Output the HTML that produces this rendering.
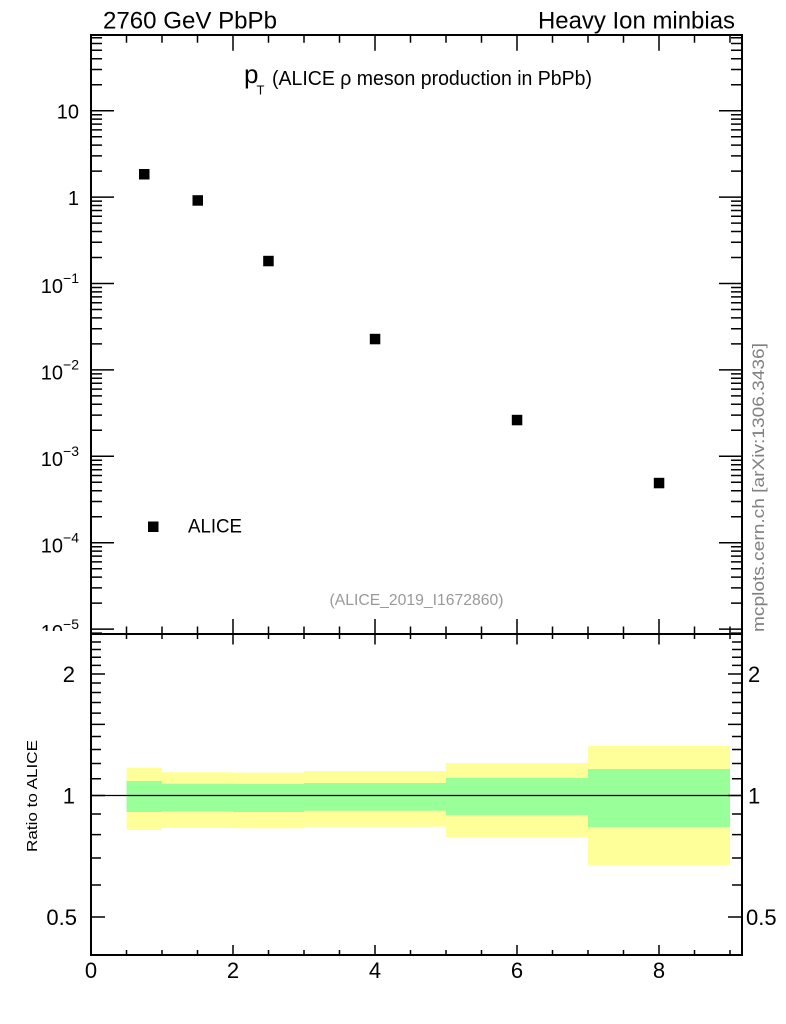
<!DOCTYPE html>
<html><head><meta charset="utf-8"><style>
html,body{margin:0;padding:0;background:#fff;}
svg{display:block;}
text{font-family:"Liberation Sans",Arial,sans-serif;}
</style></head><body>
<svg width="786" height="1024" viewBox="0 0 786 1024" xmlns="http://www.w3.org/2000/svg">
<defs>
<clipPath id="cliptop"><rect x="0" y="0" width="786" height="631"/></clipPath>
</defs>
<rect width="786" height="1024" fill="#fff"/>

<!-- header -->
<text x="103" y="28.5" font-size="24" textLength="174" lengthAdjust="spacingAndGlyphs">2760 GeV PbPb</text>
<text x="538" y="28.5" font-size="24" textLength="197" lengthAdjust="spacingAndGlyphs">Heavy Ion minbias</text>

<!-- title -->
<text x="244" y="83" font-size="26">p</text>
<text x="256.5" y="94.5" font-size="13">T</text>
<text x="272" y="85" font-size="20" textLength="320" lengthAdjust="spacingAndGlyphs">(ALICE ρ meson production in PbPb)</text>

<!-- data points -->
<g fill="#000">
<rect x="139" y="169" width="10.5" height="10.5"/>
<rect x="192.5" y="195.2" width="10.5" height="10.5"/>
<rect x="263.2" y="255.8" width="10.5" height="10.5"/>
<rect x="369.8" y="333.8" width="10.5" height="10.5"/>
<rect x="511.8" y="414.8" width="10.5" height="10.5"/>
<rect x="653.8" y="477.8" width="10.5" height="10.5"/>
</g>

<!-- legend -->
<rect x="148" y="521.5" width="10.5" height="10.5" fill="#000"/>
<text x="188" y="532.3" font-size="19.5" textLength="54" lengthAdjust="spacingAndGlyphs">ALICE</text>

<text x="416.5" y="605" font-size="15.5" fill="#999" text-anchor="middle" textLength="174" lengthAdjust="spacingAndGlyphs">(ALICE_2019_I1672860)</text>

<!-- main y labels -->
<g font-size="20" text-anchor="end">
<text x="79" y="118.5">10</text>
<text x="79" y="205">1</text>
<text x="79" y="293.2">10<tspan font-size="14" dy="-10">−1</tspan></text>
<text x="79" y="379.6">10<tspan font-size="14" dy="-10">−2</tspan></text>
<text x="79" y="466">10<tspan font-size="14" dy="-10">−3</tspan></text>
<text x="79" y="552.4">10<tspan font-size="14" dy="-10">−4</tspan></text>
<g clip-path="url(#cliptop)"><text x="79" y="638.8">10<tspan font-size="14" dy="-10">−5</tspan></text></g>
</g>

<!-- ratio bands -->
<g fill="#ffff99">
<rect x="126.5" y="767.7" width="35.5" height="62.3"/>
<rect x="162" y="772.3" width="71" height="55.7"/>
<rect x="233" y="772.6" width="71" height="55.7"/>
<rect x="304" y="771" width="142" height="55.7"/>
<rect x="446" y="763" width="142" height="74"/>
<rect x="588" y="746" width="142" height="119"/>
</g>
<g fill="#99ff99">
<rect x="126.5" y="781" width="35.5" height="31"/>
<rect x="162" y="783.7" width="71" height="27.6"/>
<rect x="233" y="784" width="71" height="28"/>
<rect x="304" y="783" width="142" height="27.7"/>
<rect x="446" y="778" width="142" height="37"/>
<rect x="588" y="769" width="142" height="58"/>
</g>
<line x1="91" y1="795.5" x2="742" y2="795.5" stroke="#000" stroke-width="1.2"/>

<!-- frames -->
<rect x="91" y="35" width="651" height="599" fill="none" stroke="#000" stroke-width="2"/>
<rect x="91" y="634" width="651" height="321" fill="none" stroke="#000" stroke-width="2"/>

<!-- main y ticks -->
<path stroke="#000" stroke-width="1.5" fill="none" d="
M91 110.7h23M91 197.1h23M91 283.5h23M91 369.9h23M91 456.3h23M91 542.7h23M91 629.1h23
M742 110.7h-23M742 197.1h-23M742 283.5h-23M742 369.9h-23M742 456.3h-23M742 542.7h-23M742 629.1h-23
M91 37.7h11M91 43.5h11M91 50.3h11M91 58.7h11M91 69.5h11M91 84.7h11
M91 114.7h11M91 119.1h11M91 124.1h11M91 129.9h11M91 136.7h11M91 145.1h11M91 155.9h11M91 171.1h11
M91 201.1h11M91 205.5h11M91 210.5h11M91 216.3h11M91 223.1h11M91 231.5h11M91 242.3h11M91 257.5h11
M91 287.5h11M91 291.9h11M91 296.9h11M91 302.7h11M91 309.5h11M91 317.9h11M91 328.7h11M91 343.9h11
M91 373.9h11M91 378.3h11M91 383.3h11M91 389.1h11M91 395.9h11M91 404.3h11M91 415.1h11M91 430.3h11
M91 460.3h11M91 464.7h11M91 469.7h11M91 475.5h11M91 482.3h11M91 490.7h11M91 501.5h11M91 516.7h11
M91 546.7h11M91 551.1h11M91 556.1h11M91 561.9h11M91 568.7h11M91 577.1h11M91 587.9h11M91 603.1h11
M91 633.1h11
M742 37.7h-11M742 43.5h-11M742 50.3h-11M742 58.7h-11M742 69.5h-11M742 84.7h-11
M742 114.7h-11M742 119.1h-11M742 124.1h-11M742 129.9h-11M742 136.7h-11M742 145.1h-11M742 155.9h-11M742 171.1h-11
M742 201.1h-11M742 205.5h-11M742 210.5h-11M742 216.3h-11M742 223.1h-11M742 231.5h-11M742 242.3h-11M742 257.5h-11
M742 287.5h-11M742 291.9h-11M742 296.9h-11M742 302.7h-11M742 309.5h-11M742 317.9h-11M742 328.7h-11M742 343.9h-11
M742 373.9h-11M742 378.3h-11M742 383.3h-11M742 389.1h-11M742 395.9h-11M742 404.3h-11M742 415.1h-11M742 430.3h-11
M742 460.3h-11M742 464.7h-11M742 469.7h-11M742 475.5h-11M742 482.3h-11M742 490.7h-11M742 501.5h-11M742 516.7h-11
M742 546.7h-11M742 551.1h-11M742 556.1h-11M742 561.9h-11M742 568.7h-11M742 577.1h-11M742 587.9h-11M742 603.1h-11
M742 633.1h-11
"/>

<!-- x ticks: main top / main bottom / ratio top / ratio bottom -->
<path stroke="#000" stroke-width="1.5" fill="none" d="
M233 35v15.7M375 35v15.7M517 35v15.7M659 35v15.7
M126.5 35v7.7M162 35v7.7M197.5 35v7.7M268.5 35v7.7M304 35v7.7M339.5 35v7.7M410.5 35v7.7M446 35v7.7M481.5 35v7.7M552.5 35v7.7M588 35v7.7M623.5 35v7.7M694.5 35v7.7M730 35v7.7
M233 634v-15M375 634v-15M517 634v-15M659 634v-15
M126.5 634v-7.5M162 634v-7.5M197.5 634v-7.5M268.5 634v-7.5M304 634v-7.5M339.5 634v-7.5M410.5 634v-7.5M446 634v-7.5M481.5 634v-7.5M552.5 634v-7.5M588 634v-7.5M623.5 634v-7.5M694.5 634v-7.5M730 634v-7.5
M233 634v10.5M375 634v10.5M517 634v10.5M659 634v10.5
M126.5 634v5M162 634v5M197.5 634v5M268.5 634v5M304 634v5M339.5 634v5M410.5 634v5M446 634v5M481.5 634v5M552.5 634v5M588 634v5M623.5 634v5M694.5 634v5M730 634v5
M233 955v-10M375 955v-10M517 955v-10M659 955v-10
M126.5 955v-5M162 955v-5M197.5 955v-5M268.5 955v-5M304 955v-5M339.5 955v-5M410.5 955v-5M446 955v-5M481.5 955v-5M552.5 955v-5M588 955v-5M623.5 955v-5M694.5 955v-5M730 955v-5
"/>

<!-- ratio y ticks -->
<path stroke="#000" stroke-width="1.5" fill="none" d="
M91 917h14M91 795.5h14M91 674h14M91 724.4h14
M742 917h-14M742 795.5h-14M742 674h-14M742 724.4h-14
M91 885h10M91 858h10M91 834.6h10M91 814h10M91 778.8h10M91 763.5h10M91 749.5h10M91 736.5h10M91 713.1h10M91 702.5h10M91 692.5h10M91 683h10M91 665.4h10M91 657.3h10M91 649.5h10M91 642h10
M742 885h-10M742 858h-10M742 834.6h-10M742 814h-10M742 778.8h-10M742 763.5h-10M742 749.5h-10M742 736.5h-10M742 713.1h-10M742 702.5h-10M742 692.5h-10M742 683h-10M742 665.4h-10M742 657.3h-10M742 649.5h-10M742 642h-10
"/>

<!-- ratio labels -->
<g font-size="22">
<text x="75" y="682" text-anchor="end">2</text>
<text x="75" y="803.5" text-anchor="end">1</text>
<text x="77" y="925" text-anchor="end">0.5</text>
<text x="748" y="682">2</text>
<text x="748" y="803.5">1</text>
<text x="746" y="925">0.5</text>
</g>

<!-- x labels -->
<g font-size="22" text-anchor="middle">
<text x="91" y="978">0</text>
<text x="233" y="978">2</text>
<text x="375" y="978">4</text>
<text x="517" y="978">6</text>
<text x="659" y="978">8</text>
</g>

<!-- axis titles -->
<text transform="translate(37,796) rotate(-90)" font-size="15" text-anchor="middle" textLength="112" lengthAdjust="spacingAndGlyphs">Ratio to ALICE</text>
<text transform="translate(764,632) rotate(-90)" font-size="17" fill="#808080" textLength="289" lengthAdjust="spacingAndGlyphs">mcplots.cern.ch [arXiv:1306.3436]</text>
</svg>
</body></html>
